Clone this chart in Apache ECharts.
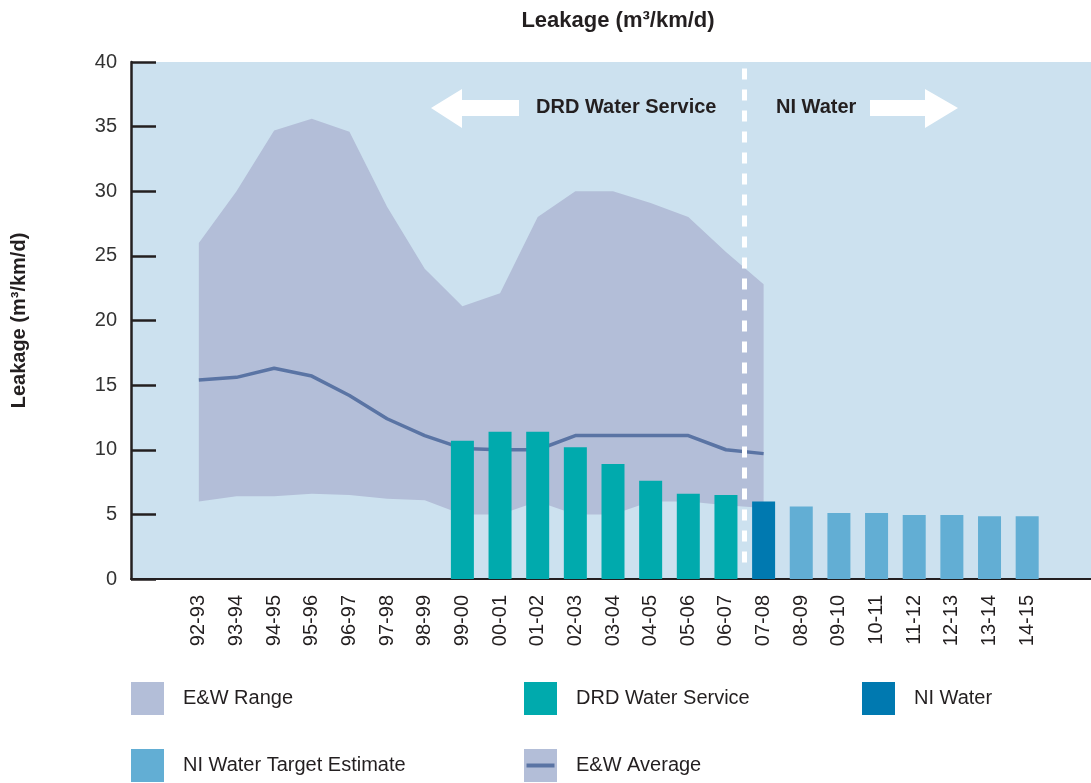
<!DOCTYPE html>
<html>
<head>
<meta charset="utf-8">
<title>Leakage</title>
<script src="https://cdn.jsdelivr.net/npm/echarts@6/dist/echarts.min.js"></script>
<style>
  html, body { margin: 0; padding: 0; background: #fff; }
  #chart { width: 1091px; height: 783px; }
</style>
</head>
<body>
<div id="chart"></div>
<script>
// financial years on the x axis
const categories = ['92-93', '93-94', '94-95', '95-96', '96-97', '97-98', '98-99', '99-00',
  '00-01', '01-02', '02-03', '03-04', '04-05', '05-06', '06-07', '07-08',
  '08-09', '09-10', '10-11', '11-12', '12-13', '13-14', '14-15'];

// England & Wales range and average (92-93 .. 07-08)
const rangeHigh = [26, 30, 34.7, 35.6, 34.6, 28.8, 24, 21.1, 22.1, 28, 30, 30, 29.1, 28, 25.3, 22.8];
const rangeLow = [6, 6.4, 6.4, 6.6, 6.5, 6.2, 6.1, 5, 5, 6, 5, 5, 6, 6, 5.7, 5.5];
const average = [15.4, 15.6, 16.3, 15.7, 14.2, 12.4, 11.1, 10.1, 10, 10, 11.1, 11.1, 11.1, 11.1, 10, 9.7];

// bars
const drdWater = [10.7, 11.4, 11.4, 10.2, 8.9, 7.6, 6.6, 6.5];   // 99-00 .. 06-07
const niWater = [6.0];                                           // 07-08
const niTarget = [5.6, 5.1, 5.1, 4.95, 4.95, 4.85, 4.85];        // 08-09 .. 14-15

const yTicks = [0, 5, 10, 15, 20, 25, 30, 35, 40];

const BG = '#cce1ef';
const RANGE = '#b3bed8';
const AVG = '#5a74a4';
const TEAL = '#00aaad';
const NIBLUE = '#0079b0';
const TARGET = '#62aed4';
const INK = '#231f20';
const FONT = 'Liberation Sans, Arial, sans-serif';

// place a short list onto the full category axis starting at a given year
function place(values, startCat) {
  const start = categories.indexOf(startCat);
  return categories.map((c, i) => {
    const k = i - start;
    return k >= 0 && k < values.length ? values[k] : null;
  });
}

const lowFull = place(rangeLow, '92-93');
const spanFull = place(rangeHigh.map((h, i) => +(h - rangeLow[i]).toFixed(2)), '92-93');
const avgFull = place(average, '92-93');

const chart = echarts.init(document.getElementById('chart'), null, { renderer: 'canvas' });

const legendText = { fontFamily: FONT, fontSize: 20, color: INK, padding: [0, 0, 0, 14] };
function legendAt(name, left, top, extra) {
  return Object.assign({
    data: [name], left: left, top: top, orient: 'horizontal', padding: 0,
    itemWidth: 33, itemHeight: 33, icon: 'rect', selectedMode: false,
    textStyle: legendText
  }, extra || {});
}

chart.setOption({
  animation: false,
  title: {
    text: 'Leakage (m³/km/d)',
    left: 613, top: 5, textAlign: 'center',
    textStyle: { fontFamily: FONT, fontSize: 22, fontWeight: 'bold', color: INK }
  },
  grid: [
    { left: 131, right: 0, top: 62, bottom: 204, show: true, backgroundColor: BG, borderWidth: 0 },
    { left: 180, right: 45, top: 62, bottom: 204 }
  ],
  xAxis: [
    {
      gridIndex: 0, type: 'value', min: -1.8, max: 23.7,
      axisLine: { show: true, onZero: false, lineStyle: { color: INK, width: 2 } },
      axisTick: { show: false }, axisLabel: { show: false }, splitLine: { show: false }
    },
    {
      gridIndex: 1, type: 'category', data: categories,
      axisLine: { show: false }, axisTick: { show: false }, splitLine: { show: false },
      axisLabel: { rotate: 90, margin: 16, fontFamily: FONT, fontSize: 20, color: INK, interval: 0 }
    }
  ],
  yAxis: [
    {
      gridIndex: 0, type: 'value', min: yTicks[0], max: yTicks[yTicks.length - 1], interval: 5,
      name: 'Leakage (m³/km/d)', nameLocation: 'middle', nameGap: 102,
      nameTextStyle: { fontFamily: FONT, fontSize: 20, fontWeight: 'bold', color: INK },
      axisLine: { show: true, onZero: false, lineStyle: { color: INK, width: 2.5 } },
      axisTick: { show: true, inside: true, length: 25, lineStyle: { color: INK, width: 2.5 } },
      axisLabel: { margin: 14, fontFamily: FONT, fontSize: 20, color: '#333', padding: [0, 0, 10, 0] },
      splitLine: { show: false }
    },
    { gridIndex: 1, type: 'value', min: 0, max: 40, show: false }
  ],
  legend: [
    legendAt('E&W Range', 131, 682),
    legendAt('DRD Water Service', 524, 682),
    legendAt('NI Water', 862, 682),
    legendAt('NI Water Target Estimate', 131, 749),
    legendAt({ name: 'E&W Average', icon: 'rect', itemStyle: { color: RANGE } }, 524, 749),
    {
      data: [{ name: 'E&W Average', icon: 'rect', itemStyle: { color: AVG } }],
      left: 526.5, top: 763.5, padding: 0, itemWidth: 28, itemHeight: 4, selectedMode: false, z: 6,
      textStyle: { fontFamily: FONT, fontSize: 1, color: 'rgba(0,0,0,0)' }
    }
  ],
  graphic: [
    { type: 'polygon', z: 10, shape: { points: [[431, 108], [462, 89], [462, 100], [519, 100], [519, 116], [462, 116], [462, 128]] }, style: { fill: '#fff' } },
    { type: 'polygon', z: 10, shape: { points: [[958, 108], [925, 89], [925, 100], [870, 100], [870, 116], [925, 116], [925, 128]] }, style: { fill: '#fff' } },
    { type: 'text', z: 10, left: 536, top: 97, style: { text: 'DRD Water Service', font: 'bold 20px ' + FONT, fill: INK } },
    { type: 'text', z: 10, left: 776, top: 97, style: { text: 'NI Water', font: 'bold 20px ' + FONT, fill: INK } }
  ],
  series: [
    {
      name: 'rangeLow', type: 'line', xAxisIndex: 1, yAxisIndex: 1, stack: 'range',
      data: lowFull, symbol: 'none', lineStyle: { width: 0, opacity: 0 }, silent: true, z: 1
    },
    {
      name: 'E&W Range', type: 'line', xAxisIndex: 1, yAxisIndex: 1, stack: 'range',
      data: spanFull, symbol: 'none', lineStyle: { width: 0, opacity: 0 },
      itemStyle: { color: RANGE }, areaStyle: { color: RANGE, opacity: 1 }, z: 1
    },
    {
      name: 'E&W Average', type: 'line', xAxisIndex: 1, yAxisIndex: 1,
      data: avgFull, symbol: 'none', itemStyle: { color: AVG },
      lineStyle: { color: AVG, width: 3.5 }, z: 2
    },
    {
      name: 'DRD Water Service', type: 'bar', xAxisIndex: 1, yAxisIndex: 1,
      data: place(drdWater, '99-00'), barWidth: 23, barGap: '-100%', itemStyle: { color: TEAL }, z: 3
    },
    {
      name: 'NI Water', type: 'bar', xAxisIndex: 1, yAxisIndex: 1,
      data: place(niWater, '07-08'), barWidth: 23, barGap: '-100%', itemStyle: { color: NIBLUE }, z: 3
    },
    {
      name: 'NI Water Target Estimate', type: 'bar', xAxisIndex: 1, yAxisIndex: 1,
      data: place(niTarget, '08-09'), barWidth: 23, barGap: '-100%', itemStyle: { color: TARGET }, z: 3
    },
    {
      // boundary between DRD Water Service and NI Water, halfway between 06-07 and 07-08
      name: 'boundary', type: 'line', xAxisIndex: 0, yAxisIndex: 0, data: [], z: 5,
      markLine: {
        silent: true, symbol: 'none', label: { show: false },
        lineStyle: { color: '#fff', type: [11, 10], width: 5 },
        data: [[{ coord: [categories.indexOf('07-08') - 0.5, 39.5] }, { coord: [categories.indexOf('07-08') - 0.5, 0.9] }]]
      }
    }
  ]
});
</script>
</body>
</html>
